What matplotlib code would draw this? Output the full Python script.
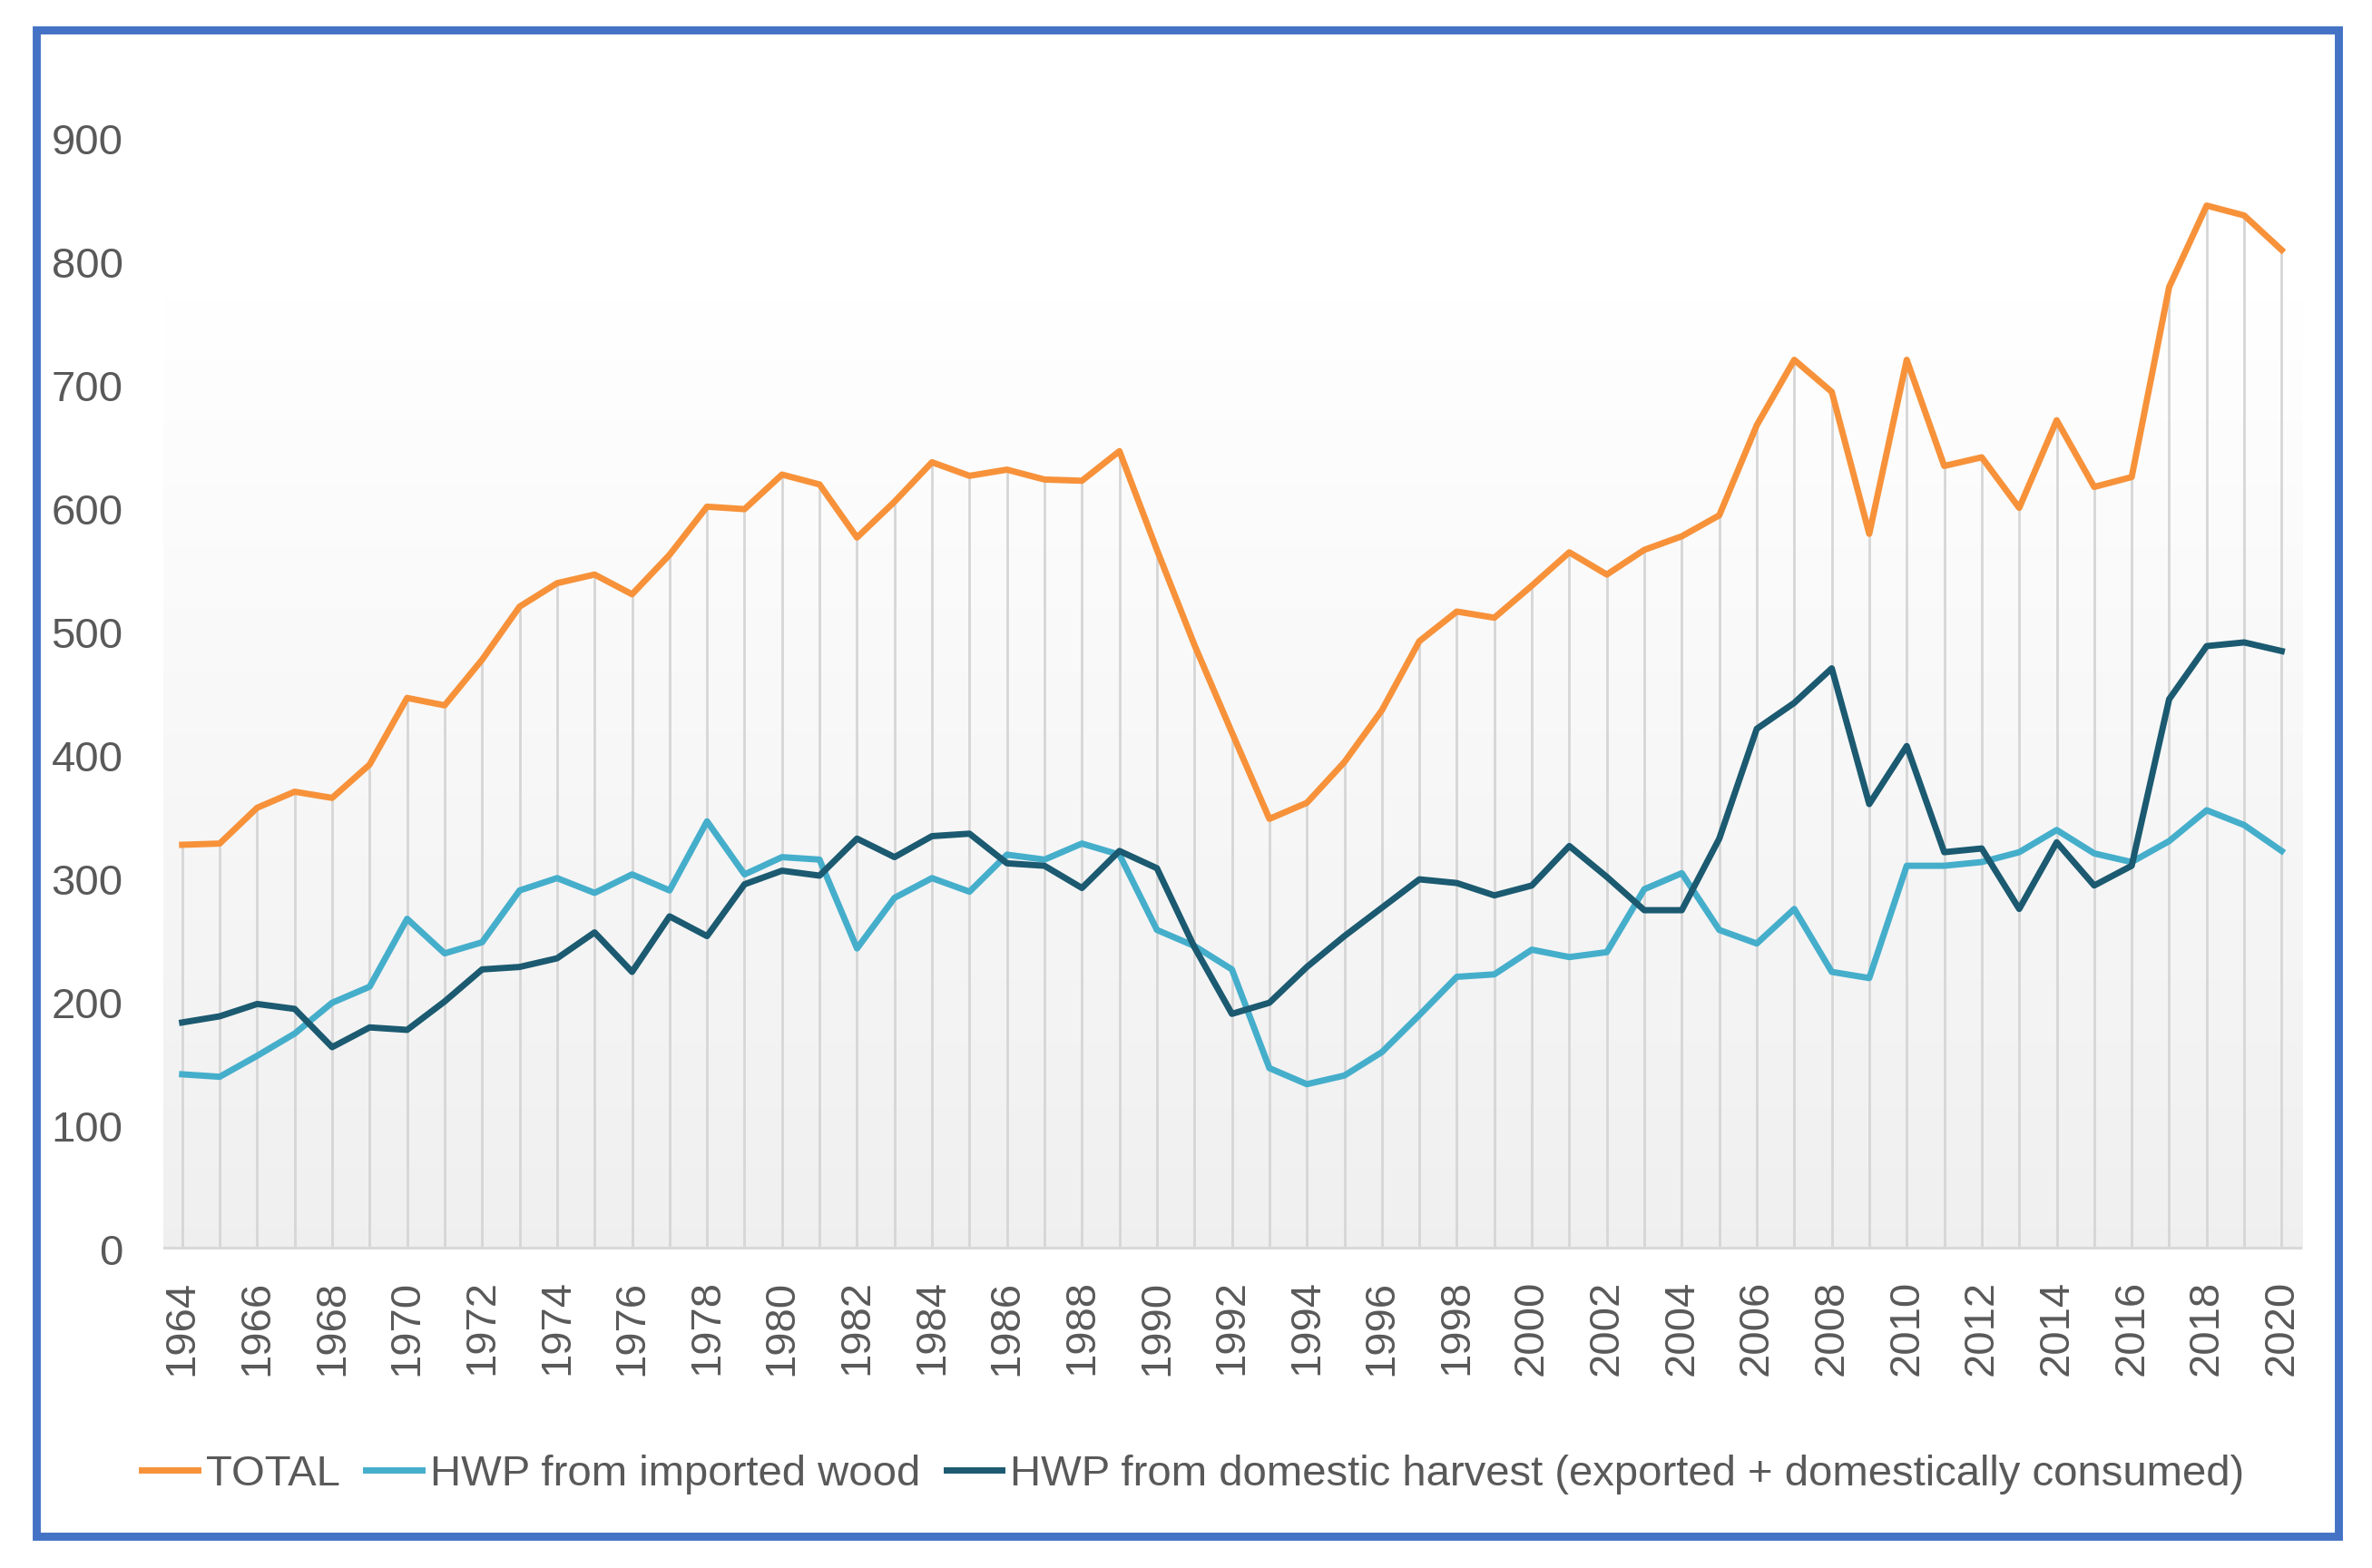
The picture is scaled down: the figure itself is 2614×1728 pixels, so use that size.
import matplotlib.pyplot as plt
from matplotlib.patches import Rectangle
import numpy as np

years = list(range(1964, 2021))
total = [328, 329, 358, 371, 366, 393, 447, 441, 478, 521,
         540, 547, 531, 563, 602, 600, 628, 620, 577, 606,
         638, 627, 632, 624, 623, 647, 567, 490, 419, 349,
         362, 395, 437, 493, 517, 512, 538, 565, 547, 567,
         578, 595, 668, 721, 695, 580, 721, 635, 642, 601,
         672, 618, 626, 780, 846, 838, 810]
imported = [142, 140, 157, 175, 200, 213, 268, 240, 249, 291,
            301, 289, 304, 291, 347, 304, 318, 316, 244, 285,
            301, 290, 320, 316, 329, 320, 259, 246, 227, 147,
            134, 141, 160, 190, 221, 223, 243, 237, 241, 292,
            305, 259, 248, 276, 225, 220, 311, 311, 314, 322,
            340, 321, 314, 331, 356, 344, 323]
domestic = [184, 189, 199, 195, 164, 180, 178, 201, 227, 229,
            236, 257, 225, 270, 254, 296, 307, 303, 333, 318,
            335, 337, 313, 311, 293, 323, 309, 245, 191, 200,
            229, 254, 277, 300, 297, 287, 295, 327, 302, 275,
            275, 333, 422, 443, 471, 361, 408, 322, 325, 276,
            330, 295, 311, 446, 489, 492, 485]
labels = ["TOTAL", "HWP from imported wood",
          "HWP from domestic harvest (exported + domestically consumed)"]

plt.rcParams['font.family'] = ['Liberation Sans Narrow', 'Liberation Sans', 'DejaVu Sans']

fig = plt.figure(figsize=(13.07, 8.64), dpi=200)

# blue frame around the whole chart
fig.patches.append(Rectangle((0.0153, 0.0203), 0.9707, 0.9607, transform=fig.transFigure,
                             fill=False, edgecolor="#4472C4", linewidth=3.2, zorder=10))

ax = fig.add_axes([0.0689, 0.2031, 0.9017, 0.7083])

# soft vertical gradient background, grey at the bottom fading to white
t = np.linspace(0, 1, 256).reshape(-1, 1)
grad = np.clip(0.94 + 0.07 * t, 0, 1)
ax.imshow(np.dstack([grad, grad, grad]), extent=[0, 1, 0, 1], transform=ax.transAxes,
          aspect='auto', origin='lower', zorder=0)

# drop lines from the total down to zero
ax.vlines(years, 0, total, color="#d6d6d6", linewidth=1.0, zorder=1)
ax.axhline(0, color="#d9d9d9", linewidth=2.2, zorder=1)

l1, = ax.plot(years, total, color="#F7923A", linewidth=2.5, zorder=3)
l2, = ax.plot(years, imported, color="#45AECB", linewidth=2.5, zorder=3)
l3, = ax.plot(years, domestic, color="#1B5A70", linewidth=2.5, zorder=4)

ax.set_xlim(1963.5, 2020.55)
ax.set_ylim(0, 900)
ax.set_yticks(np.arange(0, 901, 100))
ax.set_xticks(years[::2])
ax.set_xticklabels([str(y) for y in years[::2]], rotation=90)
ax.tick_params(axis='y', length=0, pad=16, labelsize=17, labelcolor="#595959")
ax.tick_params(axis='x', length=0, pad=12, labelsize=17, labelcolor="#595959")
for s in ax.spines.values():
    s.set_visible(False)

fig.legend([l1, l2, l3], labels, loc='center', bbox_to_anchor=(0.503, 0.0596),
           ncol=3, frameon=False, fontsize=17, labelcolor="#595959",
           handlelength=1.3, handletextpad=0.2, columnspacing=0.6)

fig.savefig("out.png", dpi=200, facecolor="white")
